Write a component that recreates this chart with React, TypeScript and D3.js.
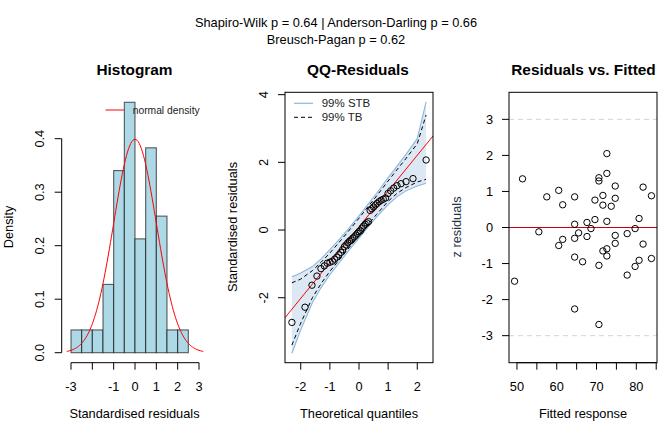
import React from "react";
import * as d3 from "d3";

const W = 672;
const H = 432;
const FONT = "'Liberation Sans', Arial, Helvetica, sans-serif";
const BASE = 12.8;

// Diagnostic test summary shown above the panels
const testLines = [
  "Shapiro-Wilk p = 0.64 | Anderson-Darling p = 0.66",
  "Breusch-Pagan p = 0.62",
];

// Standardised residuals, sorted ascending (n = 47)
const stdResiduals = [
  -2.73, -2.28, -1.63, -1.36, -1.14, -1.06, -0.98, -0.95, -0.92, -0.86,
  -0.8, -0.73, -0.66, -0.58, -0.49, -0.44, -0.38, -0.33, -0.29, -0.24,
  -0.2, -0.15, -0.1, -0.05, -0.02, 0.06, 0.12, 0.17, 0.21, 0.25,
  0.58, 0.63, 0.68, 0.74, 0.79, 0.84, 0.88, 0.91, 0.95, 1.08,
  1.16, 1.24, 1.31, 1.37, 1.43, 1.52, 2.07,
];

// Histogram break points
const histBreaks = [-3, -2.5, -2, -1.5, -1, -0.5, 0, 0.5, 1, 1.5, 2, 2.5];
const histXTicks = [-3, -2, -1, 0, 1, 2, 3];
const histXLabels = ["-3", "", "-1", "0", "1", "2", "3"];
const histYTicks = [0, 0.1, 0.2, 0.3, 0.4];

// QQ reference line
const qqIntercept = 0.095;
const qqSlope = 1.057;

// Envelope bands evaluated at theoretical quantiles
const bandQuantiles = [-2.303, -2.0, -1.6, -1.3, -1.0, -0.6, -0.3, 0, 0.3, 0.6, 1.0, 1.3, 1.6, 2.0, 2.303];
const stbUpper = [-1.38, -1.27, -1.08, -0.85, -0.58, -0.2, 0.1, 0.42, 0.75, 1.08, 1.55, 1.88, 2.22, 2.7, 3.79];
const stbLower = [-3.64, -2.95, -2.15, -1.7, -1.32, -0.88, -0.55, -0.24, 0.08, 0.38, 0.75, 0.98, 1.15, 1.3, 1.38];
const tbUpper = [-1.56, -1.45, -1.2, -0.95, -0.68, -0.28, 0.03, 0.35, 0.68, 1.0, 1.45, 1.78, 2.1, 2.55, 3.4];
const tbLower = [-3.4, -2.75, -2.0, -1.58, -1.22, -0.8, -0.48, -0.17, 0.15, 0.46, 0.85, 1.08, 1.25, 1.42, 1.5];
const qqXTicks = [-2, -1, 0, 1, 2];
const qqYTicks = [-2, 0, 2, 4];

// Fitted values and z residuals
const fittedValues = [
  49.4, 51.4, 55.5, 57.5, 60.5, 60.5, 61.5, 61.5, 64.5, 64.5,
  64.5, 64.5, 64.5, 65.5, 66.5, 67.6, 67.6, 68.6, 69.6, 69.6,
  70.6, 70.6, 70.6, 70.6, 71.6, 71.6, 71.6, 72.6, 72.6, 72.6,
  72.6, 72.6, 73.7, 74.7, 74.7, 74.7, 74.7, 77.7, 77.7, 79.7,
  79.7, 80.7, 80.7, 81.7, 81.7, 83.8, 83.8,
];
const zResiduals = [
  -1.49, 1.35, -0.12, 0.85, 1.03, -0.5, 0.63, -0.33, 0.85, 0.09,
  -0.3, -0.82, -2.26, -0.15, -0.95, 0.14, -0.25, -0.03, 0.76, 0.22,
  1.38, 1.29, -1.05, -2.69, 0.89, 0.62, -0.65, 2.05, 1.5, 0.17,
  -0.59, -0.79, 0.59, 1.15, 0.81, -0.22, -0.44, -0.17, -1.32, -0.03,
  -1.08, 0.25, -0.91, 1.12, -0.46, 0.88, -0.86,
];
const resXTicks = [50, 55, 60, 65, 70, 75, 80, 85];
const resXLabels = ["50", "", "60", "", "70", "", "80", ""];
const resYTicks = [-3, -2, -1, 0, 1, 2, 3];
const resGuides = [-3, 3];

// Inverse standard normal CDF (Acklam's rational approximation)
function qnorm(p: number): number {
  const a = [-39.69683028665376, 220.9460984245205, -275.9285104469687, 138.357751867269, -30.66479806614716, 2.506628277459239];
  const b = [-54.47609879822406, 161.5858368580409, -155.6989798598866, 66.80131188771972, -13.28068155288572];
  const c = [-0.007784894002430293, -0.3223964580411365, -2.400758277161838, -2.549732539343734, 4.374664141464968, 2.938163982698783];
  const d = [0.007784695709041462, 0.3224671290700398, 2.445134137142996, 3.754408661907416];
  const pl = 0.02425;
  if (p < pl) {
    const q = Math.sqrt(-2 * Math.log(p));
    return (((((c[0] * q + c[1]) * q + c[2]) * q + c[3]) * q + c[4]) * q + c[5]) / ((((d[0] * q + d[1]) * q + d[2]) * q + d[3]) * q + 1);
  }
  if (p > 1 - pl) {
    const q = Math.sqrt(-2 * Math.log(1 - p));
    return -(((((c[0] * q + c[1]) * q + c[2]) * q + c[3]) * q + c[4]) * q + c[5]) / ((((d[0] * q + d[1]) * q + d[2]) * q + d[3]) * q + 1);
  }
  const q = p - 0.5;
  const r = q * q;
  return ((((((a[0] * r + a[1]) * r + a[2]) * r + a[3]) * r + a[4]) * r + a[5]) * q) / (((((b[0] * r + b[1]) * r + b[2]) * r + b[3]) * r + b[4]) * r + 1);
}

const dnorm = (x: number) => Math.exp(-0.5 * x * x) / Math.sqrt(2 * Math.PI);

const txt = (extra: React.CSSProperties = {}) => ({ fontFamily: FONT, fontSize: BASE, fill: "#000", ...extra });

function Histogram() {
  const x = d3.scaleLinear().domain([-3, 3]).range([71, 199]);
  const y = d3.scaleLinear().domain([0, 0.4]).range([352.7, 138.7]);
  const n = stdResiduals.length;
  const bins = d3
    .bin()
    .domain([histBreaks[0], histBreaks[histBreaks.length - 1]])
    .thresholds(histBreaks.slice(1, -1))(stdResiduals);
  const curveX = d3.range(-3.2, 3.2001, 0.05);
  const curve = d3
    .line<number>()
    .x((v) => x(v))
    .y((v) => y(dnorm(v)))(curveX);
  const axisY = 362.7;
  const axisX = 61.7;
  return (
    <g>
      <text x={134.5} y={74.5} textAnchor="middle" style={txt({ fontSize: 15.4, fontWeight: "bold" })}>Histogram</text>
      {bins.map((b, i) => {
        const dens = b.length / (n * ((b.x1 as number) - (b.x0 as number)));
        return (
          <rect
            key={i}
            x={x(b.x0 as number)}
            y={y(dens)}
            width={x(b.x1 as number) - x(b.x0 as number)}
            height={y(0) - y(dens)}
            fill="#ADD8E6"
            stroke="rgba(0,0,0,0.62)"
            strokeWidth={1.1}
          />
        );
      })}
      <path d={curve ?? ""} fill="none" stroke="#FF0000" strokeWidth={1} />
      {/* legend */}
      <line x1={105.5} x2={124} y1={110} y2={110} stroke="#FF0000" strokeWidth={1} />
      <text x={132.7} y={110} dominantBaseline="central" style={txt({ fontSize: 10.3, fill: "#222" })}>normal density</text>
      {/* x axis */}
      <line x1={x(histXTicks[0])} x2={x(histXTicks[histXTicks.length - 1])} y1={axisY} y2={axisY} stroke="#000" />
      {histXTicks.map((t, i) => (
        <g key={t}>
          <line x1={x(t)} x2={x(t)} y1={axisY} y2={axisY + 7} stroke="#000" />
          <text x={x(t)} y={390.7} textAnchor="middle" style={txt()}>{histXLabels[i]}</text>
        </g>
      ))}
      {/* y axis */}
      <line x1={axisX} x2={axisX} y1={y(0)} y2={y(0.4)} stroke="#000" />
      {histYTicks.map((t) => (
        <g key={t}>
          <line x1={axisX - 7} x2={axisX} y1={y(t)} y2={y(t)} stroke="#000" />
          <text transform={`translate(44.3,${y(t)}) rotate(-90)`} textAnchor="middle" style={txt()}>{t.toFixed(1)}</text>
        </g>
      ))}
      <text x={134.5} y={418} textAnchor="middle" style={txt()}>Standardised residuals</text>
      <text transform={`translate(13,227) rotate(-90)`} textAnchor="middle" style={txt()}>Density</text>
    </g>
  );
}

function QQPanel() {
  const left = 285, right = 433, top = 92.3, bottom = 362.7;
  const x = d3.scaleLinear().domain([-2.54, 2.54]).range([left, right]);
  const y = d3.scaleLinear().domain([-3.92, 4.07]).range([bottom, top]);
  const n = stdResiduals.length;
  const theo = stdResiduals.map((_, i) => qnorm((i + 1 - 0.5) / n));
  const pts = d3.sort(stdResiduals).map((v, i) => [theo[i], v] as [number, number]);

  const area = d3
    .area<number>()
    .x((_, i) => x(bandQuantiles[i]))
    .y0((_, i) => y(stbLower[i]))
    .y1((_, i) => y(stbUpper[i]))(bandQuantiles);
  const lineOf = (arr: number[]) =>
    d3
      .line<number>()
      .x((_, i) => x(bandQuantiles[i]))
      .y((v) => y(v))(arr) ?? "";

  const xa = -2.54, xb = 2.54;
  return (
    <g>
      <defs>
        <clipPath id="qqclip">
          <rect x={left} y={top} width={right - left} height={bottom - top} />
        </clipPath>
      </defs>
      <text x={358} y={74.5} textAnchor="middle" style={txt({ fontSize: 15.4, fontWeight: "bold" })}>QQ-Residuals</text>
      <g clipPath="url(#qqclip)">
        <path d={area ?? ""} fill="#DCE8F4" stroke="none" />
        <path d={lineOf(stbUpper)} fill="none" stroke="#8DB6DD" strokeWidth={1.1} />
        <path d={lineOf(stbLower)} fill="none" stroke="#8DB6DD" strokeWidth={1.1} />
        <path d={lineOf(tbUpper)} fill="none" stroke="#000" strokeWidth={1} strokeDasharray="4,3" />
        <path d={lineOf(tbLower)} fill="none" stroke="#000" strokeWidth={1} strokeDasharray="4,3" />
        <line
          x1={x(xa)} y1={y(qqIntercept + qqSlope * xa)}
          x2={x(xb)} y2={y(qqIntercept + qqSlope * xb)}
          stroke="#FF0000" strokeWidth={1}
        />
        {pts.map(([a, b], i) => (
          <circle key={i} cx={x(a)} cy={y(b)} r={3.2} fill="none" stroke="#000" strokeWidth={1} />
        ))}
      </g>
      {/* legend */}
      <line x1={294} x2={313} y1={103.3} y2={103.3} stroke="#8DB6DD" strokeWidth={1.2} />
      <text x={321.7} y={103.3} dominantBaseline="central" style={txt({ fontSize: 11.5, fill: "#222" })}>99% STB</text>
      <line x1={294} x2={313} y1={117.3} y2={117.3} stroke="#000" strokeWidth={1} strokeDasharray="4,3" />
      <text x={321.7} y={117.3} dominantBaseline="central" style={txt({ fontSize: 11.5, fill: "#222" })}>99% TB</text>
      <rect x={left} y={top} width={right - left} height={bottom - top} fill="none" stroke="#000" strokeWidth={1} />
      {qqXTicks.map((t) => (
        <g key={t}>
          <line x1={x(t)} x2={x(t)} y1={bottom} y2={bottom + 7} stroke="#000" />
          <text x={x(t)} y={390.7} textAnchor="middle" style={txt()}>{String(t)}</text>
        </g>
      ))}
      {qqYTicks.map((t) => (
        <g key={t}>
          <line x1={left - 7} x2={left} y1={y(t)} y2={y(t)} stroke="#000" />
          <text transform={`translate(268.3,${y(t)}) rotate(-90)`} textAnchor="middle" style={txt()}>{String(t)}</text>
        </g>
      ))}
      <text x={359} y={418} textAnchor="middle" style={txt()}>Theoretical quantiles</text>
      <text transform={`translate(237,227) rotate(-90)`} textAnchor="middle" style={txt()}>Standardised residuals</text>
    </g>
  );
}

function ResidualPanel() {
  const left = 509, right = 657, top = 92.3, bottom = 362.7;
  const x = d3.scaleLinear().domain([48, 85.2]).range([left, right]);
  const y = d3.scaleLinear().domain([-3.75, 3.75]).range([bottom, top]);
  return (
    <g>
      <text x={583.5} y={74.5} textAnchor="middle" style={txt({ fontSize: 15.4, fontWeight: "bold" })}>Residuals vs. Fitted</text>
      {resGuides.map((g) => (
        <line key={g} x1={left} x2={right} y1={y(g)} y2={y(g)} stroke="#D3D3D3" strokeWidth={1} strokeDasharray="5,4" />
      ))}
      <line x1={left} x2={right} y1={y(0)} y2={y(0)} stroke="#CC0000" strokeWidth={1.2} />
      {fittedValues.map((f, i) => (
        <circle key={i} cx={x(f)} cy={y(zResiduals[i])} r={3.2} fill="none" stroke="#000" strokeWidth={1} />
      ))}
      <rect x={left} y={top} width={right - left} height={bottom - top} fill="none" stroke="#000" strokeWidth={1} />
      <line x1={x(resXTicks[0])} x2={x(resXTicks[resXTicks.length - 1])} y1={bottom} y2={bottom} stroke="#000" />
      {resXTicks.map((t, i) => (
        <g key={t}>
          <line x1={x(t)} x2={x(t)} y1={bottom} y2={bottom + 7} stroke="#000" />
          <text x={x(t)} y={390.7} textAnchor="middle" style={txt()}>{resXLabels[i]}</text>
        </g>
      ))}
      {resYTicks.map((t) => (
        <g key={t}>
          <line x1={left - 7} x2={left} y1={y(t)} y2={y(t)} stroke="#000" />
          <text x={493} y={y(t)} dominantBaseline="central" textAnchor="end" style={txt()}>{String(t)}</text>
        </g>
      ))}
      <text x={583} y={418} textAnchor="middle" style={txt()}>Fitted response</text>
      <text transform={`translate(461,227) rotate(-90)`} textAnchor="middle" style={txt({ fill: "#1F3347" })}>z residuals</text>
    </g>
  );
}

export default function App() {
  return (
    <svg
      width={W}
      height={H}
      viewBox={`0 0 ${W} ${H}`}
      style={{ position: "absolute", left: 0, top: 0, background: "#fff" }}
    >
      <rect x={0} y={0} width={W} height={H} fill="#fff" />
      {testLines.map((s, i) => (
        <text key={i} x={336} y={26.5 + i * 17.5} textAnchor="middle" style={txt()}>{s}</text>
      ))}
      <Histogram />
      <QQPanel />
      <ResidualPanel />
    </svg>
  );
}
